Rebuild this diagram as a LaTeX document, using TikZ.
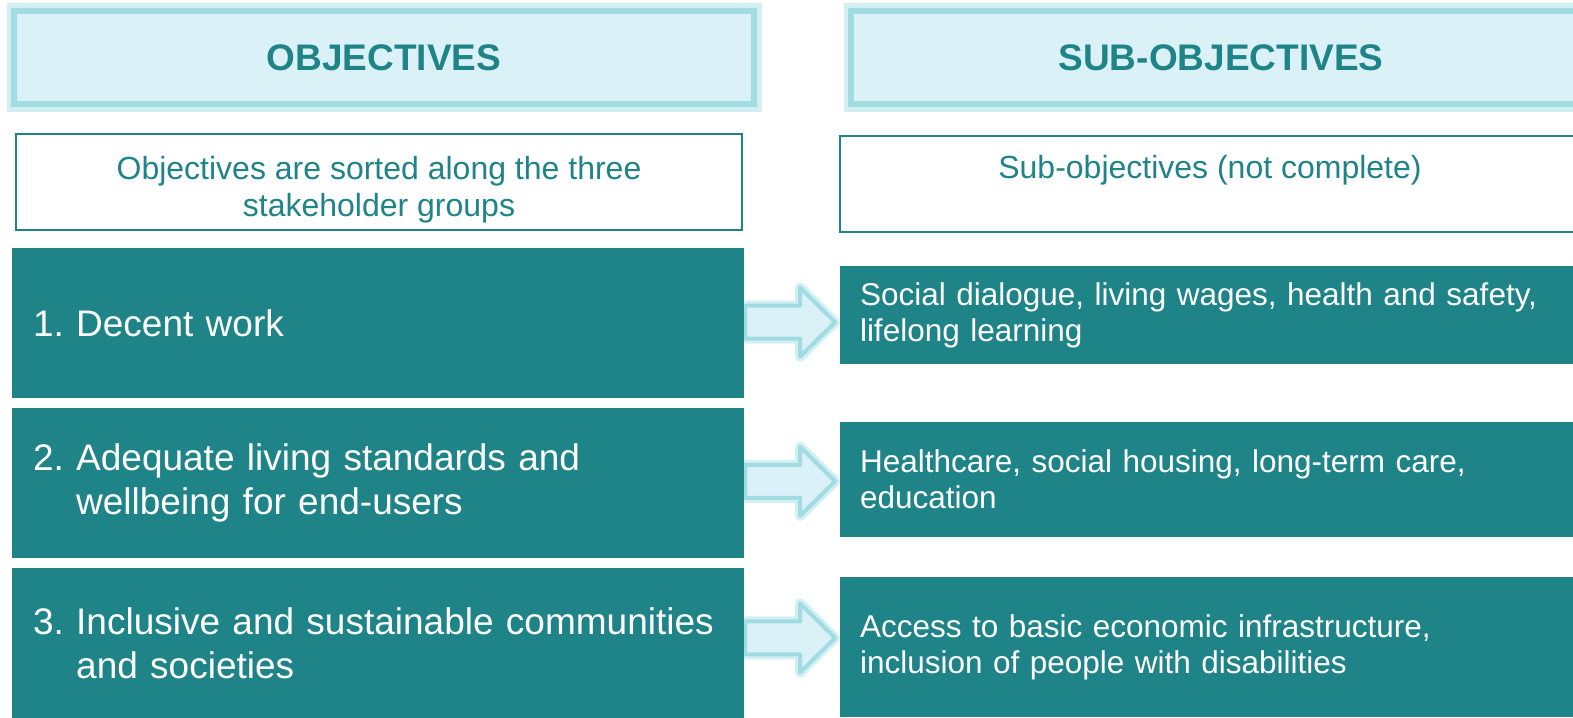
\documentclass[tikz,border=0pt]{standalone}
\usepackage{fontspec}
\setmainfont{Liberation Sans}
\usetikzlibrary{positioning, backgrounds}
\definecolor{esgteal}{HTML}{1E8488}
\definecolor{paleblue}{HTML}{DAF1F7}
\definecolor{glowblue}{HTML}{A0DCE2}
\definecolor{glowsoft}{HTML}{D2EFF3}
\frenchspacing
\tikzset{
headbox/.style={fill=paleblue, draw=glowblue, line width=6pt, text=esgteal,
  preaction={draw=glowsoft, line width=15pt},
  font=\fontsize{37}{44}\selectfont\bfseries,
  minimum width=740pt, minimum height=93pt, inner sep=0pt, outer sep=0pt},
notebox/.style={draw=esgteal, line width=1.6pt, fill=white, text=esgteal, align=center,
  font=\fontsize{32}{37}\selectfont, minimum height=96pt, inner sep=0pt, outer sep=0pt},
objbox/.style={fill=esgteal, text=white, align=left, font=\fontsize{37}{44}\selectfont,
  text width=690pt, inner xsep=21pt, inner ysep=0pt, minimum height=150pt, outer sep=0pt},
subbox/.style={fill=esgteal, text=white, align=left, font=\fontsize{31.5}{36}\selectfont,
  text width=700pt, inner xsep=20pt, inner ysep=0pt, outer sep=0pt},
arrowglow/.style={fill=paleblue, draw=glowblue, line width=4pt, line join=round,
  preaction={draw=glowsoft, line width=10pt, line join=round}},
fatarrow/.pic={
  \draw[arrowglow] (-45,-16.5) -- (10,-16.5) -- (10,-34.5) -- (45,0)
    -- (10,34.5) -- (10,16.5) -- (-45,16.5) -- cycle;
},
}

\begin{document}
\begin{tikzpicture}[x=1pt, y=-1pt]
  \useasboundingbox (0,0) rectangle (1573,717);

  % column headers
  \node[headbox, anchor=north west] (hdrObj) at (14,11) {OBJECTIVES};
  \node[headbox, right=97pt of hdrObj] (hdrSub) {SUB-OBJECTIVES};

  % explanatory notes
  \node[notebox, minimum width=726pt, below right=30pt and 2pt of hdrObj.south west] (noteObj)
    {\rule{0pt}{38pt}Objectives are sorted along the three\\stakeholder groups};
  \node[notebox, minimum width=740pt, below right=32pt and -11pt of hdrSub.south west] (noteSub)
    {\rule{0pt}{26pt}Sub-objectives (not complete)\\\mbox{}};

  % objectives
  \node[objbox, below right=18pt and -4pt of noteObj.south west] (objA) {1. Decent work};
  \node[objbox, below=10pt of objA] (objB)
    {2. Adequate living standards and\\\hphantom{2. }wellbeing for end-users};
  \node[objbox, below=10pt of objB] (objC)
    {3. Inclusive and sustainable communities\\\hphantom{3. }and societies};

  % sub-objectives
  \node[subbox, minimum height=98pt, below right=34pt and 0pt of noteSub.south west] (subA)
    {Social dialogue, living wages, health and safety,\\lifelong learning};
  \node[subbox, minimum height=115pt, below=58pt of subA] (subB)
    {Healthcare, social housing, long-term care,\\education};
  \node[subbox, minimum height=140pt, below=40pt of subB] (subC)
    {Access to basic economic infrastructure,\\inclusion of people with disabilities};

  % block arrows between the columns
  \begin{scope}[on background layer]
    \path (objA.east) -- (subA.west) coordinate[pos=0.48] (arA);
    \path (objB.east) -- (subB.west) coordinate[pos=0.48] (arB);
    \path (objC.east) -- (subC.west) coordinate[pos=0.48] (arC);
    \pic at ([yshift=-3pt]arA) {fatarrow};
    \pic at (arB) {fatarrow};
    \pic at ([yshift=7pt]arC) {fatarrow};
  \end{scope}
\end{tikzpicture}
\end{document}
